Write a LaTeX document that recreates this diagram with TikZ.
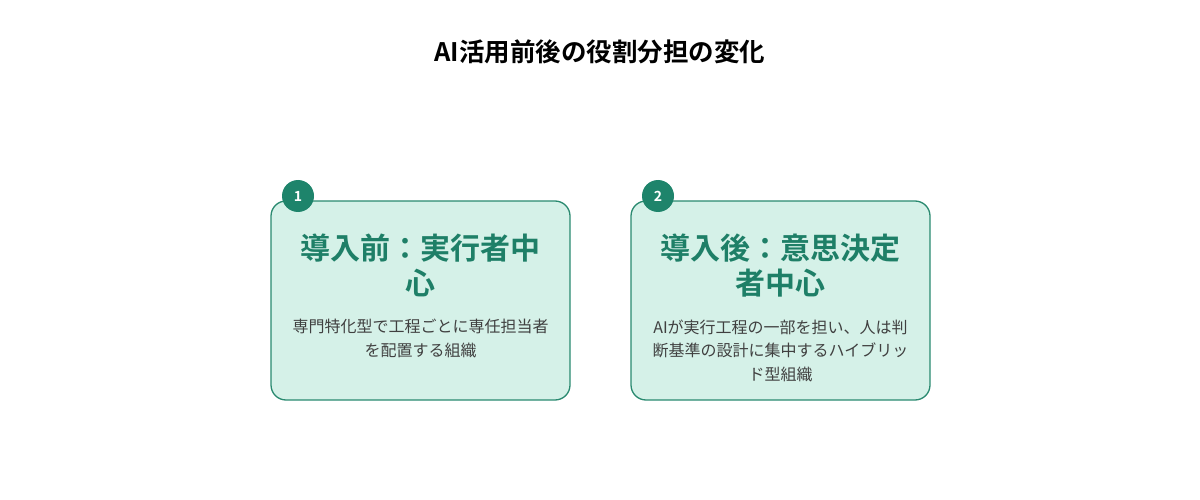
\documentclass[tikz,border=0pt]{standalone}
\usepackage{fontspec}
\setmainfont{Noto Sans CJK JP}
\newfontfamily\jpbold{Noto Sans CJK JP Bold}
\definecolor{tealdark}{HTML}{1E7F67}
\definecolor{tealborder}{HTML}{2A8A70}
\definecolor{tealfill}{HTML}{D5F1E8}
\definecolor{badgefill}{HTML}{1E846B}
\definecolor{bodytext}{HTML}{404040}
\begin{document}
\begin{tikzpicture}[x=1pt,y=-1pt,
  card/.style={draw=tealborder,line width=1.3pt,fill=tealfill,rounded corners=15pt},
  badge/.style={circle,fill=badgefill,minimum size=32pt,inner sep=0pt,text=white,font=\jpbold\fontsize{14pt}{14pt}\selectfont},
  heading/.style={align=center,text=tealdark,font=\jpbold\fontsize{30pt}{35pt}\selectfont,inner sep=0pt},
  body/.style={align=center,text=bodytext,font=\fontsize{16pt}{23.5pt}\selectfont,inner sep=0pt},
  titlestyle/.style={font=\jpbold\fontsize{25.5pt}{28pt}\selectfont,text=black,inner sep=0pt}]
\useasboundingbox (0,0) rectangle (1200,500);
\node[titlestyle] (title) at (600,52) {AI活用前後の役割分担の変化};
% card 1
\draw[card] (271,201) rectangle (570,400);
\node[heading] (h1) at (420.5,265.5) {導入前：実行者中\\心};
\node[body] (b1) at (420.5,338.5) {専門特化型で工程ごとに専任担当者\\を配置する組織};
\node[badge] (n1) at (298,196) {1};
% card 2
\draw[card] (631,201) rectangle (930,400);
\node[heading] (h2) at (780.5,265.5) {導入後：意思決定\\者中心};
\node[body] (b2) at (780.5,350.5) {AIが実行工程の一部を担い、人は判\\断基準の設計に集中するハイブリッ\\ド型組織};
\node[badge] (n2) at (658,196) {2};
\end{tikzpicture}
\end{document}
